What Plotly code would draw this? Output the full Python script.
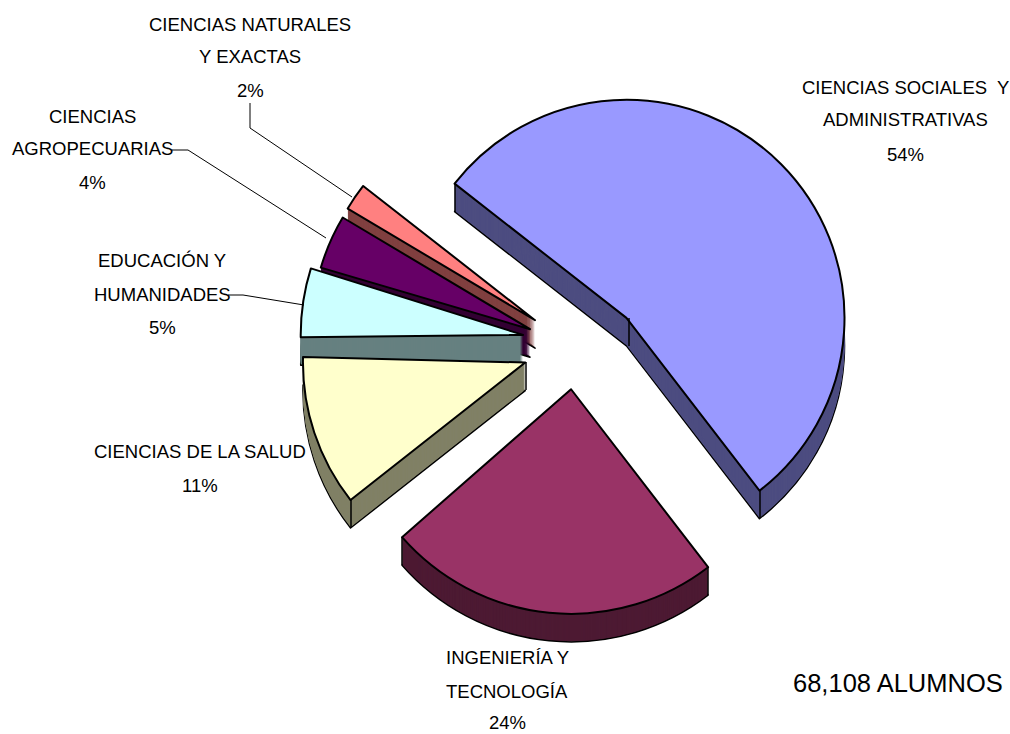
import plotly.graph_objects as go

categories = ["CIENCIAS SOCIALES  Y ADMINISTRATIVAS", "INGENIERÍA Y TECNOLOGÍA", "CIENCIAS DE LA SALUD",
              "EDUCACIÓN Y HUMANIDADES", "CIENCIAS AGROPECUARIAS", "CIENCIAS NATURALES Y EXACTAS"]
values = [54, 24, 11, 5, 4, 2]
top_colors = ["#9999FF", "#993366", "#FFFFCC", "#CCFFFF", "#660066", "#FF8080"]
side_colors = ["#4D4D80", "#4D1A33", "#808066", "#668080", "#330033", "#804040"]
pulls = [0.30, 0.18, 0.25, 0.25, 0.25, 0.25]

W, H = 1010, 734
DEPTH = 28
# slices that share an explosion centre: (slice indexes, centre x, centre y, domain size, start angle)
groups = [
    ([4, 5], 580, 351, 567, -52),
    ([3], 578, 343, 578, -51),
    ([2], 578, 345, 578, -49),
    ([1], 575, 349, 584, -52),
    ([0], 580, 364, 567, -52),
]
CLEAR = "rgba(0,0,0,0)"


def pie(group, dy, colors, line):
    members, cx, cy, size, start = group
    return go.Pie(
        labels=categories, values=values, sort=False, direction="clockwise", rotation=start,
        pull=pulls, textinfo="none", hoverinfo="skip", showlegend=False,
        marker=dict(colors=[colors[i] if i in members else CLEAR for i in range(len(values))],
                    line=dict(color="black", width=[line if i in members else 0 for i in range(len(values))])),
        domain=dict(x=[(cx - size / 2) / W, (cx + size / 2) / W],
                    y=[1 - (cy + dy + size / 2) / H, 1 - (cy + dy - size / 2) / H]),
    )


fig = go.Figure()
for group in groups:
    for dy in range(DEPTH, 0, -1):
        fig.add_trace(pie(group, dy, side_colors, 1.5 if dy == DEPTH else 0))
for group in groups:
    fig.add_trace(pie(group, 0, top_colors, 2))

labels = [
    (250, 24, "CIENCIAS NATURALES"), (250, 57, "Y EXACTAS"), (250, 90, "2%"),
    (92, 116, "CIENCIAS"), (92, 149, "AGROPECUARIAS"), (92, 182, "4%"),
    (162, 260, "EDUCACIÓN Y"), (162, 294, "HUMANIDADES"), (162, 328, "5%"),
    (200, 451, "CIENCIAS DE LA SALUD"), (200, 485, "11%"),
    (507, 657, "INGENIERÍA Y"), (507, 691, "TECNOLOGÍA"), (507, 722, "24%"),
    (905, 87, "CIENCIAS SOCIALES  Y"), (905, 120, "ADMINISTRATIVAS"), (905, 154, "54%"),
]
for x, y, t in labels:
    fig.add_annotation(x=x / W, y=1 - y / H, xref="paper", yref="paper", text=t, showarrow=False,
                       xanchor="center", yanchor="middle",
                       font=dict(family="Liberation Sans", size=18.5, color="black"))
fig.add_annotation(x=898 / W, y=1 - 683 / H, xref="paper", yref="paper", text="68,108 ALUMNOS",
                   showarrow=False, xanchor="center", yanchor="middle",
                   font=dict(family="Liberation Sans", size=25.5, color="black"))

leaders = [
    [(250, 103), (250, 128), (352, 197)],
    [(172, 150), (188, 150), (326, 238)],
    [(228, 295), (243, 295), (304, 305)],
]
for pts in leaders:
    fig.add_shape(type="path", xref="paper", yref="paper", line=dict(color="black", width=1),
                  path="M " + " L ".join(f"{px / W},{1 - py / H}" for px, py in pts))

# vertical edges of the extruded side walls
edges = [(455, 184), (629, 318), (760, 490), (402, 537), (708, 567), (351, 499), (526, 362)]
for ex, ey in edges:
    fig.add_shape(type="line", xref="paper", yref="paper", line=dict(color="black", width=1.5),
                  x0=ex / W, x1=ex / W, y0=1 - ey / H, y1=1 - (ey + DEPTH) / H)

fig.update_layout(width=W, height=H, margin=dict(l=0, r=0, t=0, b=0),
                  paper_bgcolor="white", plot_bgcolor="white")
fig.write_html("out.html", config={"displayModeBar": False}, post_script="document.body.style.margin='0';")
